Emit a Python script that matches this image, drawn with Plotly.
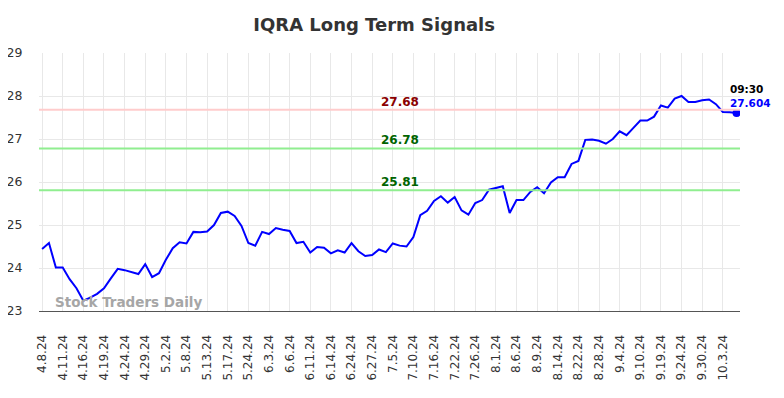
import plotly.graph_objects as go

tick_labels = ["4.8.24", "4.11.24", "4.16.24", "4.19.24", "4.24.24", "4.29.24", "5.2.24", "5.8.24",
               "5.13.24", "5.17.24", "5.24.24", "6.3.24", "6.6.24", "6.11.24", "6.14.24", "6.24.24",
               "6.27.24", "7.5.24", "7.10.24", "7.16.24", "7.22.24", "7.26.24", "8.1.24", "8.6.24",
               "8.9.24", "8.14.24", "8.22.24", "8.28.24", "9.4.24", "9.10.24", "9.19.24", "9.24.24",
               "9.30.24", "10.3.24"]

prices = [24.44, 24.58, 24.01, 24.01, 23.74, 23.53, 23.24, 23.31, 23.40, 23.53,
          23.76, 23.98, 23.95, 23.91, 23.86, 24.09, 23.79, 23.88, 24.19, 24.46,
          24.60, 24.57, 24.84, 24.83, 24.85, 25.00, 25.28, 25.31, 25.21, 24.98,
          24.58, 24.52, 24.84, 24.79, 24.93, 24.89, 24.86, 24.58, 24.61, 24.36,
          24.49, 24.47, 24.34, 24.41, 24.36, 24.58, 24.39, 24.28, 24.30, 24.43,
          24.37, 24.57, 24.52, 24.50, 24.72, 25.23, 25.33, 25.56, 25.67, 25.52,
          25.65, 25.34, 25.24, 25.51, 25.58, 25.82, 25.86, 25.90, 25.28, 25.58,
          25.58, 25.77, 25.88, 25.74, 25.99, 26.11, 26.11, 26.42, 26.49, 26.98,
          26.99, 26.96, 26.89, 27.00, 27.18, 27.09, 27.26, 27.43, 27.43, 27.52,
          27.78, 27.73, 27.94, 28.00, 27.86, 27.86, 27.90, 27.92, 27.81, 27.63,
          27.62, 27.604]

resistance = 27.68
supports = [26.78, 25.81]
last_time = "09:30"

x = list(range(len(prices)))
tickvals = [i * 3 for i in range(len(tick_labels))]

fig = go.Figure()
fig.add_trace(go.Scatter(x=x, y=prices, mode="lines",
                         line=dict(color="#0000ff", width=2), showlegend=False))
fig.add_trace(go.Scatter(x=[x[-1]], y=[prices[-1]], mode="markers",
                         marker=dict(color="#0000ff", size=8), showlegend=False))

fig.add_hline(y=resistance, line=dict(color="#ffcccc", width=2))
for s in supports:
    fig.add_hline(y=s, line=dict(color="#90ee90", width=2))

mid = 52
fig.add_annotation(x=mid, y=resistance, text=f"<b>{resistance:.2f}</b>", showarrow=False,
                   yshift=8, font=dict(color="#8b0000", size=12, family="DejaVu Sans"))
for s in supports:
    fig.add_annotation(x=mid, y=s, text=f"<b>{s:.2f}</b>", showarrow=False,
                       yshift=8, font=dict(color="#006400", size=12, family="DejaVu Sans"))

fig.add_annotation(x=x[-1], y=prices[-1], text=f"<b>{last_time}</b>", showarrow=False,
                   xanchor="left", yshift=24, xshift=-9,
                   font=dict(color="#000000", size=10.5, family="DejaVu Sans"))
fig.add_annotation(x=x[-1], y=prices[-1], text=f"<b>{prices[-1]}</b>", showarrow=False,
                   xanchor="left", yshift=10.5, xshift=-9,
                   font=dict(color="#0000ff", size=10.5, family="DejaVu Sans"))

fig.add_annotation(xref="paper", yref="paper", x=0.02, y=0.035, xanchor="left", yanchor="middle",
                   text="<b>Stock Traders Daily</b>", showarrow=False,
                   font=dict(color="#a6a6a6", size=13.5, family="DejaVu Sans"))

fig.update_layout(
    width=784, height=398,
    margin=dict(l=31, r=52, t=45, b=95),
    paper_bgcolor="white", plot_bgcolor="white",
    title=dict(text="<b>IQRA Long Term Signals</b>", x=0.467, xanchor="center",
               y=0.957, yanchor="middle",
               font=dict(size=18, color="#333333", family="DejaVu Sans")),
    font=dict(family="DejaVu Sans", color="#333333"),
)
fig.update_xaxes(range=[-0.45, 101.5], tickmode="array", tickvals=tickvals, ticktext=tick_labels,
                 tickangle=-90, tickfont=dict(size=12, color="#333333"), automargin=False,
                 showgrid=True, gridcolor="#e8e8e8", gridwidth=1,
                 showline=True, linecolor="#555555", linewidth=1,
                 ticks="outside", ticklen=18, tickcolor="rgba(0,0,0,0)", zeroline=False)
fig.update_yaxes(range=[23, 29], dtick=1, tickfont=dict(size=12.5, color="#333333"), automargin=False,
                 showgrid=True, gridcolor="#e8e8e8", gridwidth=1, zeroline=False,
                 ticks="outside", ticklen=13, tickcolor="rgba(0,0,0,0)")

fig.write_html("out.html")
